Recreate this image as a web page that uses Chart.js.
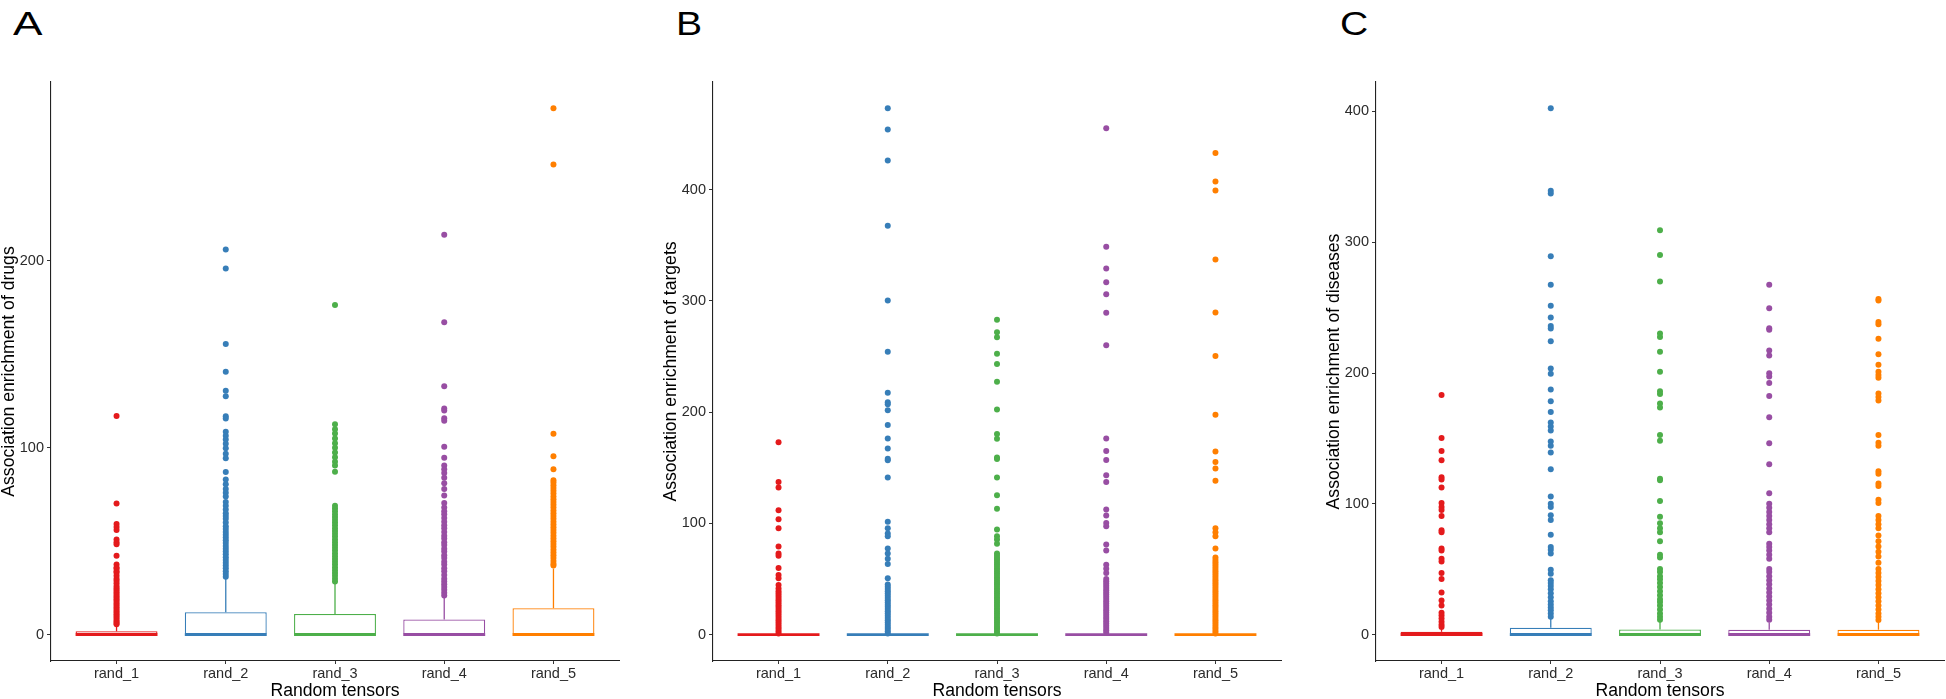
<!DOCTYPE html>
<html>
<head>
<meta charset="utf-8">
<script src="https://cdn.jsdelivr.net/npm/chart.js@4.4.1/dist/chart.umd.min.js"></script>
<style>
  html, body { margin: 0; padding: 0; background: #fff; width: 1946px; height: 699px; overflow: hidden; }
  .panel { position: absolute; top: 0; width: 640px; height: 720px; }
  .tag { position: absolute; top: 6px; font-family: "Liberation Sans", Arial, sans-serif; font-size: 34px; line-height: 34px; color: #000; transform-origin: 0 0; }
</style>
</head>
<body>
<div class="tag" style="left:13px; transform:scaleX(1.3)">A</div>
<div class="tag" style="left:676px; transform:scaleX(1.15)">B</div>
<div class="tag" style="left:1340px; transform:scaleX(1.15)">C</div>
<div class="panel" style="left:0px"><canvas id="chartA" width="640" height="720"></canvas></div>
<div class="panel" style="left:662px"><canvas id="chartB" width="640" height="720"></canvas></div>
<div class="panel" style="left:1325px"><canvas id="chartC" width="640" height="720"></canvas></div>
<script>
const categories = ['rand_1', 'rand_2', 'rand_3', 'rand_4', 'rand_5'];
const colors = ['#E41A1C', '#377EB8', '#4DAF4A', '#984EA3', '#FF7F00'];
const xTitle = 'Random tensors';

// A: drugs
const drugsQ1 = [0, 0, 0, 0, 0];
const drugsMedian = [0, 0, 0, 0, 0];
const drugsQ3 = [1.8, 12.0, 11.1, 8.1, 14.2];
const drugsWhisker = [4.4, 29.9, 27.3, 20.0, 35.4];
const drugsTicks = [0, 100, 200];
const drugsOut1 = [117.1, 70.2, 59.3, 57.6, 56.0, 51.0, 49.5, 48.4, 42.3, 37.5, 36.0, 35.3, 34.0, 33.1, 31.5, 29.9, 28.8, 27.5, 26.0, 25.0, 24.0, 23.0, 22.0, 21.0, 20.0, 19.0, 18.0, 17.0, 16.0, 15.0, 14.0, 13.0, 12.0, 11.0, 10.0, 9.0, 8.0, 7.0, 6.2, 5.6];
const drugsOut2 = [206.2, 196.0, 155.6, 140.7, 130.5, 127.6, 116.9, 115.7, 108.6, 106.5, 104.5, 102.2, 99.8, 96.8, 94.4, 87.0, 83.1, 80.5, 78.0, 76.0, 74.0, 71.0, 69.0, 67.0, 65.0, 63.5, 62.0, 60.0, 58.0, 56.6, 55.0, 53.5, 52.0, 50.5, 49.0, 47.5, 46.0, 44.5, 43.0, 41.5, 40.0, 38.5, 37.0, 35.5, 34.0, 32.5, 31.0];
const drugsOut3 = [176.4, 112.6, 110.0, 107.7, 105.0, 102.5, 100.0, 97.5, 95.0, 92.5, 90.5, 87.2, 69.0, 67.5, 66.0, 64.5, 63.0, 61.5, 60.0, 58.5, 57.0, 55.5, 54.0, 52.5, 51.0, 49.5, 48.0, 46.5, 45.0, 43.5, 42.0, 40.5, 39.0, 37.5, 36.0, 34.5, 33.0, 31.5, 30.0, 28.5];
const drugsOut4 = [214.0, 167.2, 133.0, 121.0, 120.0, 115.8, 114.5, 100.6, 94.7, 90.5, 88.5, 86.5, 84.0, 81.0, 78.0, 74.5, 70.5, 68.0, 66.0, 64.5, 62.5, 60.5, 58.5, 57.0, 55.0, 53.0, 51.5, 49.5, 48.0, 46.0, 44.5, 42.5, 41.0, 39.0, 37.5, 35.5, 34.0, 32.0, 30.0, 28.5, 27.0, 25.5, 24.0, 22.5, 21.0];
const drugsOut5 = [281.7, 251.6, 107.5, 95.5, 88.5, 82.7, 81.5, 80.0, 78.5, 77.0, 75.5, 74.0, 72.5, 71.0, 69.5, 68.0, 66.5, 65.0, 63.5, 62.0, 60.5, 59.0, 57.5, 56.0, 54.5, 53.0, 51.5, 50.0, 48.5, 47.0, 45.5, 44.0, 42.5, 41.0, 39.5, 38.0, 37.0];

// B: targets
const targetsQ1 = [0, 0, 0, 0, 0];
const targetsMedian = [0, 0, 0, 0, 0];
const targetsQ3 = [0, 0, 0, 0, 0];
const targetsWhisker = [0, 0, 0, 0, 0];
const targetsTicks = [0, 100, 200, 300, 400];
const targetsOut1 = [173.0, 137.3, 132.2, 111.8, 103.7, 95.7, 79.3, 73.0, 70.9, 59.9, 53.7, 50.8, 44.6, 41.6, 39, 37, 35, 33, 31, 29, 27, 25, 23, 21, 19, 17, 15, 13, 11, 9, 7, 5, 3, 1];
const targetsOut2 = [473.0, 454.0, 426.2, 367.4, 300.2, 254.2, 217.3, 208.9, 207.0, 201.6, 188.5, 176.4, 167.3, 158.1, 156.7, 141.3, 101.5, 95.7, 90.9, 88.4, 77.4, 73.0, 68.3, 63.5, 50.8, 45, 43, 41, 39, 37, 35, 33, 31, 29, 27, 25, 23, 21, 19, 17, 15, 13, 11, 9, 7, 5, 3, 1];
const targetsOut3 = [283.0, 271.7, 267.3, 252.4, 243.2, 227.2, 202.3, 180.4, 176.0, 159.2, 157.8, 141.3, 125.3, 113.2, 94.6, 88.4, 85.5, 81.8, 73, 71, 69, 67, 65, 63, 61, 59, 57, 55, 53, 51, 49, 47, 45, 43, 41, 39, 37, 35, 33, 31, 29, 27, 25, 23, 21, 19, 17, 15, 13, 11, 9, 7, 5, 3, 1];
const targetsOut4 = [455.0, 348.7, 329.0, 316.6, 306.0, 289.2, 260.0, 176.4, 165.1, 157.0, 143.2, 137.3, 112.5, 107.0, 100.4, 97.5, 81.0, 75.6, 62.8, 59.2, 55.5, 50, 48, 46, 44, 42, 40, 38, 36, 34, 32, 30, 28, 26, 24, 22, 20, 18, 16, 14, 12, 10, 8, 6, 4, 2];
const targetsOut5 = [432.8, 407.2, 399.2, 337.1, 289.6, 250.5, 197.6, 164.7, 155.2, 149.4, 138.4, 95.7, 92.0, 88.4, 77.4, 69.4, 67, 65, 63, 61, 59, 57, 55, 53, 51, 49, 47, 45, 43, 41, 39, 37, 35, 33, 31, 29, 27, 25, 23, 21, 19, 17, 15, 13, 11, 9, 7, 5, 3, 1];

// C: diseases
const diseasesQ1 = [0, 0, 0, 0, 0];
const diseasesMedian = [0, 0, 0, 0, 0];
const diseasesQ3 = [2.2, 5.3, 4.0, 3.8, 3.8];
const diseasesWhisker = [4.0, 12.0, 10.0, 9.4, 9.5];
const diseasesTicks = [0, 100, 200, 300, 400];
const diseasesOut1 = [183.3, 150.4, 140.5, 133.3, 120.3, 118.7, 112.5, 100.7, 97.6, 95.4, 90.7, 79.9, 78.3, 65.9, 64.3, 58.1, 55.9, 47.2, 42.6, 32.3, 26.1, 22.4, 16.8, 14.6, 12.4, 9.9, 7.5, 5.9];
const diseasesOut2 = [402.4, 339.3, 337.2, 289.3, 267.6, 251.4, 242.4, 235.9, 234.0, 224.4, 203.5, 199.5, 187.4, 178.4, 170.3, 162.2, 159.1, 156.0, 147.6, 144.5, 139.2, 126.5, 105.7, 100.1, 97.6, 91.4, 87.6, 76.4, 67.1, 64.9, 62.1, 49.7, 46.6, 41.6, 39.5, 37.3, 34.8, 31.7, 28.6, 25.5, 23.0, 20.8, 18.6, 16.2, 13.7];
const diseasesOut3 = [309.2, 290.2, 270.0, 230.3, 227.5, 216.3, 201.1, 186.1, 184.0, 176.8, 173.7, 152.6, 148.2, 119.3, 118.1, 102.2, 90.1, 85.1, 81.4, 78.3, 71.5, 61.2, 59.0, 50.3, 47.9, 44.7, 42.3, 39.5, 36.4, 33.2, 30.1, 27.0, 24.9, 22.4, 19.3, 16.2, 13.7, 11.5];
const diseasesOut4 = [267.6, 249.5, 234.3, 233.1, 217.2, 213.5, 199.8, 197.3, 192.4, 182.4, 166.3, 146.4, 130.2, 108.1, 100.1, 97.0, 93.8, 90.7, 87.6, 84.5, 81.4, 78.3, 69.6, 67.1, 64.3, 61.2, 58.1, 50.3, 47.9, 44.7, 41.6, 38.5, 35.4, 32.3, 29.2, 26.1, 23.0, 19.9, 16.8, 13.7, 11.5];
const diseasesOut5 = [256.7, 255.4, 239.0, 237.4, 226.2, 214.4, 206.3, 201.1, 198.6, 196.4, 184.3, 181.8, 179.0, 152.6, 146.7, 144.5, 124.9, 123.1, 115.6, 113.7, 103.2, 100.7, 90.7, 87.6, 84.5, 81.4, 75.8, 71.5, 67.4, 63.4, 59.7, 55.0, 50.3, 47.2, 44.1, 41.0, 37.9, 34.8, 31.7, 28.6, 25.5, 22.4, 19.3, 16.2, 13.7, 11.2];

Chart.defaults.font.family = "'Liberation Sans', Arial, sans-serif";
Chart.defaults.color = '#2b2b2b';

const BOX_WIDTH = 0.75;   // ggplot default box width
const X_EXPAND = 0.6;     // ggplot discrete axis expansion

function makePanel(id, yTitle, yTicks, q1, med, q3, whisk, outliers) {
    const ctx = document.getElementById(id).getContext('2d');
    const top = Math.max(...outliers.flat(), ...whisk);
    const datasets = [];

    // medians
    categories.forEach((c, i) => {
        datasets.push({
            type: 'line',
            data: [{x: i + 1 - BOX_WIDTH / 2, y: med[i]}, {x: i + 1 + BOX_WIDTH / 2, y: med[i]}],
            borderColor: colors[i],
            borderWidth: 2.8,
            borderCapStyle: 'butt',
            pointRadius: 0
        });
    });
    // boxes
    datasets.push({
        type: 'bar',
        data: categories.map((c, i) => ({x: i + 1, y: [q1[i], q3[i]]})),
        backgroundColor: '#ffffff',
        borderColor: colors,
        borderWidth: 1.3,
        borderSkipped: false,
        barPercentage: BOX_WIDTH,
        categoryPercentage: 1
    });
    // whiskers
    categories.forEach((c, i) => {
        datasets.push({
            type: 'line',
            data: [{x: i + 1, y: q3[i]}, {x: i + 1, y: whisk[i]}],
            borderColor: colors[i],
            borderWidth: 1.3,
            pointRadius: 0
        });
    });
    // outliers
    categories.forEach((c, i) => {
        datasets.push({
            type: 'scatter',
            data: outliers[i].map(v => ({x: i + 1, y: v})),
            backgroundColor: colors[i],
            borderWidth: 0,
            pointRadius: 3
        });
    });

    return new Chart(ctx, {
        type: 'bar',
        data: { datasets: datasets },
        options: {
            responsive: false,
            animation: false,
            layout: { padding: { top: 82, right: 21, bottom: 0, left: 0 } },
            plugins: { legend: { display: false }, tooltip: { enabled: false } },
            scales: {
                x: {
                    type: 'linear',
                    offset: false,
                    min: 1 - X_EXPAND,
                    max: categories.length + X_EXPAND,
                    afterBuildTicks: s => { s.ticks = categories.map((c, i) => ({value: i + 1})); },
                    afterFit: s => { s.height = 59; },
                    ticks: {
                        callback: v => categories[v - 1],
                        font: { size: 14.5 },
                        color: '#2b2b2b',
                        padding: 1,
                        maxRotation: 0,
                        autoSkip: false
                    },
                    grid: { display: true, offset: false, drawOnChartArea: false, drawTicks: true, tickLength: 3, color: '#333' },
                    border: { display: true, color: '#222', width: 1.1 },
                    title: { display: true, text: xTitle, color: '#000', font: { size: 17.6, lineHeight: 1.2 }, padding: { top: 0, bottom: 18 } }
                },
                y: {
                    min: -top * 0.05,
                    max: top * 1.05,
                    afterBuildTicks: s => { s.ticks = yTicks.map(v => ({value: v})); },
                    afterFit: s => { s.width = 51; },
                    ticks: { font: { size: 14.5 }, color: '#2b2b2b', padding: 3 },
                    grid: { display: true, drawOnChartArea: false, drawTicks: true, tickLength: 4, color: '#333' },
                    border: { display: true, color: '#222', width: 1.1 },
                    title: { display: true, text: yTitle, color: '#000', font: { size: 17.6, lineHeight: 1 }, padding: 0 }
                }
            }
        }
    });
}

makePanel('chartA', 'Association enrichment of drugs', drugsTicks, drugsQ1, drugsMedian, drugsQ3, drugsWhisker,
    [drugsOut1, drugsOut2, drugsOut3, drugsOut4, drugsOut5]);
makePanel('chartB', 'Association enrichment of targets', targetsTicks, targetsQ1, targetsMedian, targetsQ3, targetsWhisker,
    [targetsOut1, targetsOut2, targetsOut3, targetsOut4, targetsOut5]);
makePanel('chartC', 'Association enrichment of diseases', diseasesTicks, diseasesQ1, diseasesMedian, diseasesQ3, diseasesWhisker,
    [diseasesOut1, diseasesOut2, diseasesOut3, diseasesOut4, diseasesOut5]);
</script>
</body>
</html>
